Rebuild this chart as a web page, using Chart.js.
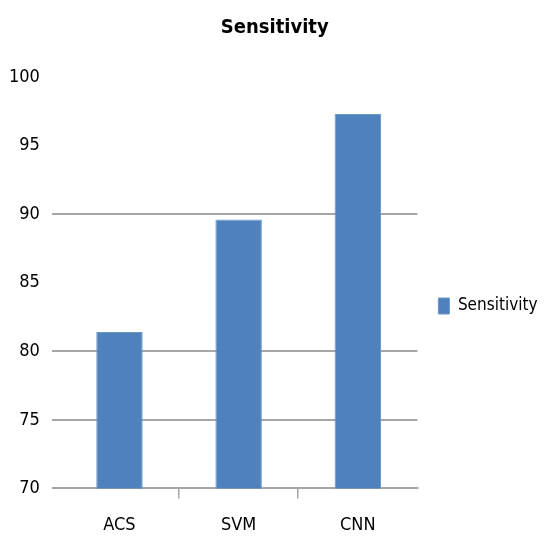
<!DOCTYPE html>
<html>
<head>
<meta charset="utf-8">
<script src="https://cdn.jsdelivr.net/npm/chart.js@4/dist/chart.umd.min.js"></script>
<style>
  html, body { margin: 0; padding: 0; background: #ffffff; }
  #wrap { width: 544px; height: 539px; }
</style>
</head>
<body>
<div id="wrap"><canvas id="chart" width="544" height="539"></canvas></div>
<script>
// Sensitivity per classifier
const categories = ['ACS', 'SVM', 'CNN'];
const sensitivity = [81.4, 89.6, 97.3];
const yTicks = [70, 75, 80, 85, 90, 95, 100];
const hiddenGridValues = [85, 95, 100];

const FONT = '"Liberation Sans Narrow", "DejaVu Sans Condensed", "Liberation Sans", sans-serif';
const GRID = '#a6a6a6';
const CLEAR = 'rgba(0,0,0,0)';

// Nudge the legend right and down, away from the plot area, and the title slightly right
const boxShift = {
  id: 'boxShift',
  afterLayout(chart) {
    const lg = chart.legend;
    if (lg) {
      lg.left += 11; lg.right += 11;
      lg.top += 30; lg.bottom += 30;
    }
    const tt = chart.titleBlock;
    if (tt) { tt.left += 8; tt.right += 8; }
  }
};

new Chart(document.getElementById('chart'), {
  type: 'bar',
  data: {
    labels: categories,
    datasets: [{
      label: 'Sensitivity',
      data: sensitivity,
      backgroundColor: '#4f81bd',
      borderColor: '#6c97c9',
      borderWidth: 1,
      barPercentage: 0.39,
      categoryPercentage: 1.0
    }]
  },
  plugins: [boxShift],
  options: {
    responsive: false,
    animation: false,
    layout: { padding: { top: 0, right: 7.5, bottom: -13, left: -3 } },
    plugins: {
      title: {
        display: true,
        text: 'Sensitivity',
        color: '#000000',
        font: { family: FONT, size: 20, weight: 'bold' },
        padding: { top: 16, bottom: 37 }
      },
      legend: {
        position: 'right',
        align: 'center',
        labels: {
          color: '#000000',
          font: { family: FONT, size: 17 },
          boxWidth: 11,
          boxHeight: 16,
          padding: 10
        }
      },
      tooltip: { enabled: false }
    },
    scales: {
      x: {
        offset: true,
        grid: {
          offset: true,
          drawOnChartArea: false,
          drawTicks: true,
          tickLength: 10,
          lineWidth: 1.5,
          color: (ctx) => (ctx.type !== 'tick' || ctx.index === 0) ? CLEAR : GRID
        },
        border: { display: true, color: GRID, width: 2 },
        ticks: {
          color: '#000000',
          font: { family: FONT, size: 18 },
          padding: 16
        }
      },
      y: {
        min: yTicks[0],
        max: yTicks[yTicks.length - 1],
        afterBuildTicks: (axis) => { axis.ticks = yTicks.map(v => ({ value: v })); },
        grid: {
          tickLength: 8,
          lineWidth: 2,
          color: (ctx) => (ctx.tick && hiddenGridValues.includes(ctx.tick.value)) ? CLEAR : GRID
        },
        border: { display: false },
        ticks: {
          color: '#000000',
          font: { family: FONT, size: 18 },
          padding: 12
        }
      }
    }
  }
});
</script>
</body>
</html>
